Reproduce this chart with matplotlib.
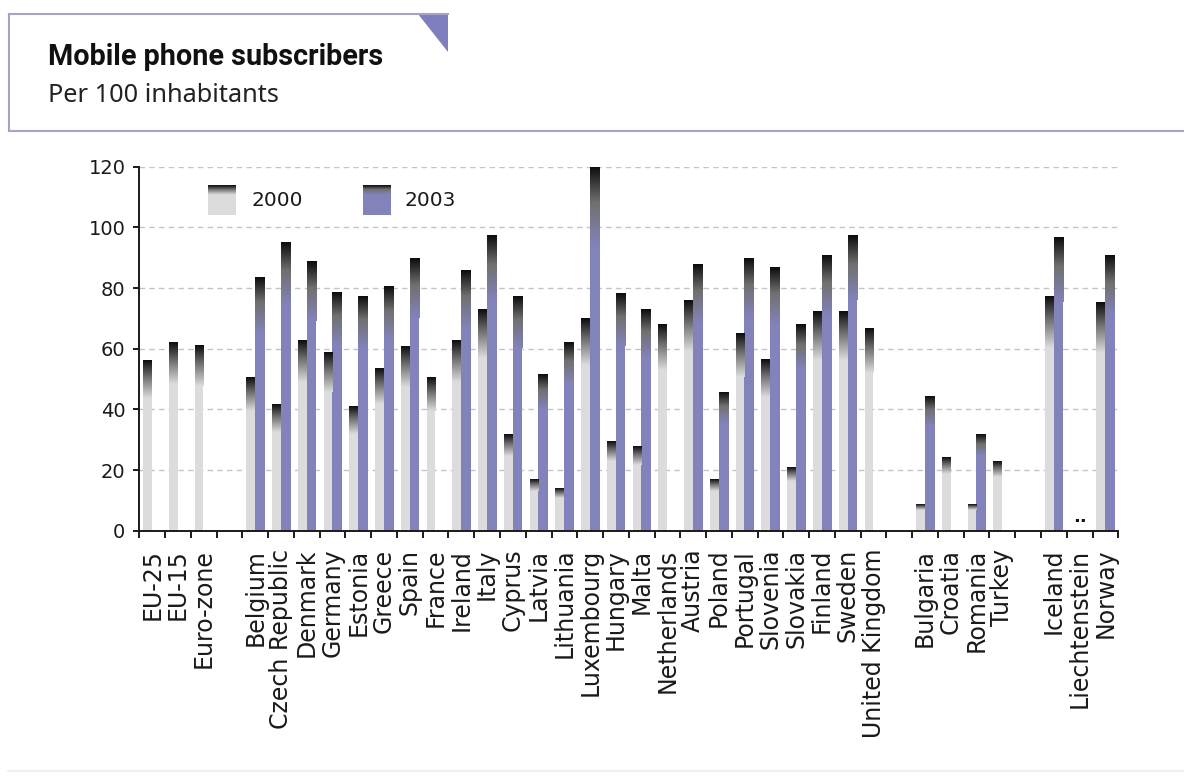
import numpy as np
import matplotlib
matplotlib.use('Agg')
import matplotlib.pyplot as plt
from matplotlib.patches import Polygon
from matplotlib.lines import Line2D
from matplotlib.colors import to_rgb

# ---------------- data ----------------
categories = ['EU-25', 'EU-15', 'Euro-zone',
              'Belgium', 'Czech Republic', 'Denmark', 'Germany', 'Estonia',
              'Greece', 'Spain', 'France', 'Ireland', 'Italy', 'Cyprus',
              'Latvia', 'Lithuania', 'Luxembourg', 'Hungary', 'Malta',
              'Netherlands', 'Austria', 'Poland', 'Portugal', 'Slovenia',
              'Slovakia', 'Finland', 'Sweden', 'United Kingdom',
              'Bulgaria', 'Croatia', 'Romania', 'Turkey',
              'Iceland', 'Liechtenstein', 'Norway']
group_sizes = [3, 25, 4, 3]
nan = np.nan
values_2000 = [56, 62, 61,
               50.5, 41.8, 62.8, 58.7, 40.8, 53.5, 60.8, 50.5, 62.8, 73.0,
               31.7, 16.8, 13.8, 69.9, 29.6, 27.6, 67.9, 76.1, 16.8, 65.0,
               56.6, 20.8, 72.0, 72.0, 66.8,
               8.6, 24.0, 8.6, 22.9,
               77.1, nan, 75.0]
values_2003 = [nan, nan, nan,
               83.7, 94.9, 88.8, 78.6, 77.1, 80.7, 89.9, nan, 85.8, 97.4,
               77.1, 51.6, 61.9, 120.0, 78.1, 73.0, nan, 87.9, 45.4, 89.9,
               86.9, 67.9, 90.9, 97.4, nan,
               44.4, nan, 31.6, nan,
               96.6, nan, 90.9]
not_available = ['Liechtenstein']
series_labels = ['2000', '2003']
yticks = [0, 20, 40, 60, 80, 100, 120]
title = 'Mobile phone subscribers'
subtitle = 'Per 100 inhabitants'

# ---------------- style ----------------
W, H, DPI = 1184, 776, 100
GRAY = '#dcdcdc'
PURPLE = '#8383bb'
MID = '#707070'
TOP = '#0c0c0c'
FRAME = '#a4a4c6'
TRI = '#7f7fbd'
INK = '#1a1a1a'

fig = plt.figure(figsize=(W / DPI, H / DPI), dpi=DPI, facecolor='white')


def fx(px):
    return px / W


def fy(py):
    return 1 - py / H


def grad_rgba(base, n=128):
    """vertical gradient: row 0 = bottom (base colour) -> top (black)"""
    b = np.array(to_rgb(base))
    m = np.array(to_rgb(MID))
    t = np.array(to_rgb(TOP))
    out = np.zeros((n, 1, 4))
    for k in range(n):
        s = k / (n - 1)
        if s < 0.55:
            u = s / 0.55
            c = b * (1 - u) + m * u
        else:
            u = (s - 0.55) / 0.45
            c = m * (1 - u) + t * u
        out[k, 0, :3] = c
        out[k, 0, 3] = 1
    return out


# slot positions (one empty slot between groups)
positions = []
start = 0
for g, size in enumerate(group_sizes):
    positions.extend(range(start, start + size))
    start += size + 1
n_slots = start - 1
positions = np.array(positions, dtype=float)

ax = fig.add_axes([fx(139.3), fy(530.7), fx(1118.3) - fx(139.3),
                   fy(166.7) - fy(530.7)])

GRAD_FRAC = 0.22
offsets = [(0.15, 0.34), (0.49, 0.38)]
for vals, base, (off, wid) in zip([values_2000, values_2003], [GRAY, PURPLE], offsets):
    v = np.array(vals, dtype=float)
    ok = ~np.isnan(v)
    ax.bar(positions[ok] + off, v[ok], width=wid, align='edge', color=base,
           linewidth=0, zorder=2)
    img = grad_rgba(base)
    for x, h in zip(positions[ok] + off, v[ok]):
        ax.imshow(img, extent=(x, x + wid, h * (1 - GRAD_FRAC), h),
                  origin='lower', aspect='auto', interpolation='bilinear',
                  zorder=3)
ax.set_xlim(0, n_slots)
ax.set_ylim(0, 120)

for name in not_available:
    i = categories.index(name)
    ax.text(positions[i] + 0.5, 1.5, '..', ha='center', va='bottom',
            fontsize=13, fontweight='bold', color='#111111')

# axes styling
for s in ['top', 'right']:
    ax.spines[s].set_visible(False)
for s in ['left', 'bottom']:
    ax.spines[s].set_linewidth(1.4)
    ax.spines[s].set_color(INK)
ax.set_yticks(yticks)
ax.tick_params(axis='y', length=4, width=1.4, pad=6, labelsize=14,
               colors=INK)
ax.set_xticks(positions + 0.5)
ax.set_xticklabels(categories, rotation=90, fontsize=17, color=INK)
ax.set_xticks(np.arange(0, n_slots + 1), minor=True)
ax.tick_params(axis='x', which='major', length=0, pad=13)
ax.tick_params(axis='x', which='minor', length=5, width=1.4, color=INK)
ax.yaxis.grid(True, linestyle=(0, (4, 3)), color='#c4c4c4', linewidth=1)
ax.set_axisbelow(True)
ax.patch.set_visible(False)

# legend (manual)
legend_x = [208, 363]
legend_text_x = [251, 404]
for base, lx, tx, lab in zip([GRAY, PURPLE], legend_x, legend_text_x, series_labels):
    la = fig.add_axes([fx(lx), fy(215), fx(28), 30 / H])
    n = 64
    arr = np.zeros((n, 1, 4))
    g = grad_rgba(base, n)
    cut = int(n * 0.68)
    arr[:cut] = np.array(list(to_rgb(base)) + [1])
    arr[cut:] = g[np.linspace(0, n - 1, n - cut).astype(int)]
    la.imshow(arr, origin='lower', aspect='auto', interpolation='bilinear')
    la.set_axis_off()
    fig.text(fx(tx), fy(201), lab, ha='left', va='center', fontsize=14.5,
             color=INK)

# title box
fig.add_artist(Line2D([fx(9.3), fx(447.7)], [fy(14), fy(14)], color=FRAME, lw=1.5))
fig.add_artist(Line2D([fx(9.3), fx(9.3)], [fy(14), fy(131)], color=FRAME, lw=1.5))
fig.add_artist(Line2D([fx(9.3), 1.0], [fy(131), fy(131)], color=FRAME, lw=1.5))
fig.add_artist(Polygon([[fx(418), fy(14)], [fx(448), fy(14)], [fx(448), fy(52)]],
                       closed=True, facecolor=TRI, edgecolor='none'))
fig.add_artist(Line2D([fx(8), 1.0], [fy(771), fy(771)], color='#f0f0f0', lw=1.5))

t1 = fig.text(fx(48), fy(65), title, fontsize=17, fontweight='bold',
              family=['Roboto', 'DejaVu Sans'], va='baseline', ha='left',
              color='#111111')
t2 = fig.text(fx(48), fy(102), subtitle, fontsize=16, family='Noto Sans',
              va='baseline', ha='left', color='#222222')

fig.canvas.draw()
r = fig.canvas.get_renderer()
for t, target in [(t1, 335), (t2, 230)]:
    w = t.get_window_extent(r).width
    t.set_fontsize(t.get_fontsize() * target / w)

fig.savefig('out.png', dpi=DPI, facecolor='white')
